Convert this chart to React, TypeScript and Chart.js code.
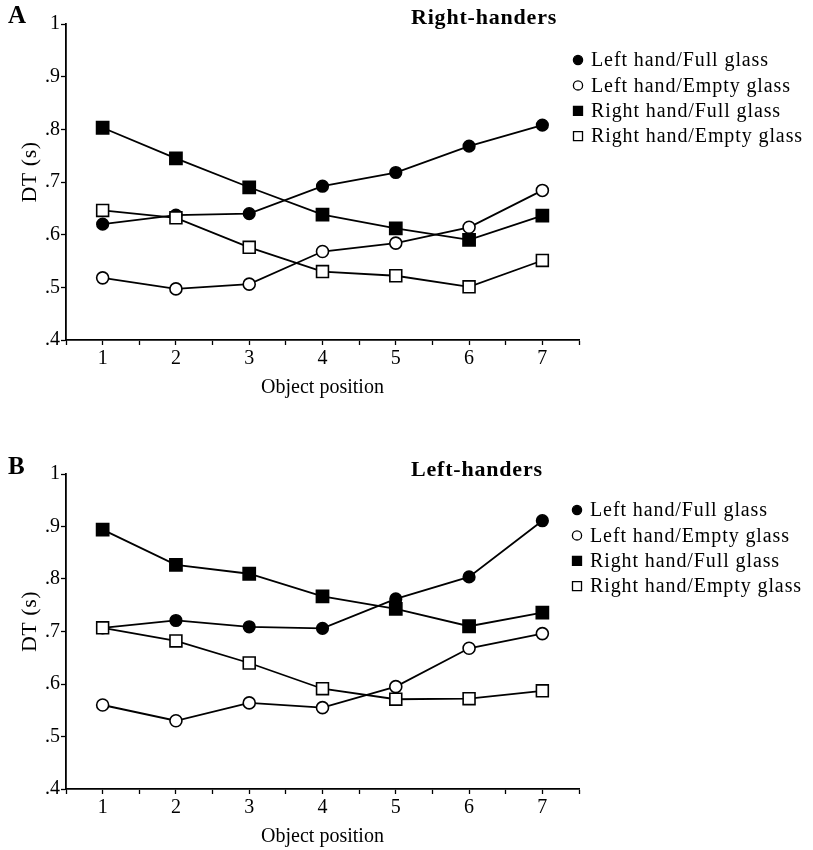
import React, { useEffect, useRef } from 'react';
import { Chart, registerables } from 'chart.js';

Chart.register(...registerables);

// ---- data ----
const positions = [1, 2, 3, 4, 5, 6, 7];
const seriesLabels = [
  'Left hand/Full glass',
  'Left hand/Empty glass',
  'Right hand/Full glass',
  'Right hand/Empty glass',
];

// Panel A: Right-handers
const rhLeftFull = [0.62, 0.637, 0.64, 0.692, 0.718, 0.768, 0.808];
const rhLeftEmpty = [0.518, 0.497, 0.506, 0.568, 0.584, 0.614, 0.684];
const rhRightFull = [0.803, 0.745, 0.69, 0.638, 0.612, 0.59, 0.636];
const rhRightEmpty = [0.646, 0.632, 0.576, 0.53, 0.522, 0.501, 0.551];

// Panel B: Left-handers
const lhLeftFull = [0.707, 0.721, 0.709, 0.706, 0.762, 0.804, 0.911];
const lhLeftEmpty = [0.56, 0.53, 0.564, 0.555, 0.595, 0.668, 0.696];
const lhRightFull = [0.894, 0.827, 0.81, 0.767, 0.743, 0.71, 0.736];
const lhRightEmpty = [0.707, 0.682, 0.64, 0.591, 0.571, 0.572, 0.587];

const yMin = 0.4;
const yMax = 1;
const yStep = 0.1;
const xMin = 0.5;
const xMax = 7.5;
const xTitle = 'Object position';
const yTitle = 'DT (s)';

const FONT = '"Liberation Serif", "Times New Roman", serif';

const pointStyles = ['circle', 'circle', 'rect', 'rect'];
const pointFills = ['#000', '#fff', '#000', '#fff'];
const pointRadii = [5.8, 6, 8.6, 8.4];

const decorPlugin = {
  id: 'decor',
  afterDraw(chart: any, _args: any, opts: any) {
    const ctx = chart.ctx;
    const area = chart.chartArea;
    ctx.save();
    ctx.fillStyle = '#000';
    ctx.textBaseline = 'middle';
    // panel letter
    ctx.font = `bold 25px ${FONT}`;
    ctx.textAlign = 'left';
    ctx.fillText(opts.letter, opts.letterX, opts.letterY);
    // title
    (ctx as any).letterSpacing = '0.8px';
    ctx.font = `bold 22px ${FONT}`;
    ctx.fillText(opts.title, opts.titleX, opts.titleY);
    // y-axis title (rotated)
    (ctx as any).letterSpacing = '0.5px';
    ctx.save();
    ctx.translate(opts.yTitleX, (area.top + area.bottom) / 2 + opts.yTitleShift);
    ctx.rotate(-Math.PI / 2);
    ctx.textAlign = 'center';
    ctx.font = `22px ${FONT}`;
    ctx.fillText(yTitle, 0, 0);
    ctx.restore();
    // legend
    (ctx as any).letterSpacing = '0.9px';
    ctx.font = `20px ${FONT}`;
    ctx.textAlign = 'left';
    chart.data.datasets.forEach((ds: any, i: number) => {
      const y = opts.legendY + i * opts.legendGap;
      const mx = opts.legendX;
      ctx.lineWidth = 1.3;
      ctx.strokeStyle = '#000';
      ctx.fillStyle = ds.pointBackgroundColor;
      ctx.beginPath();
      if (ds.pointStyle === 'circle') {
        ctx.arc(mx, y, 4.6, 0, Math.PI * 2);
      } else {
        ctx.rect(mx - 4.5, y - 4.5, 9, 9);
      }
      ctx.fill();
      ctx.stroke();
      ctx.fillStyle = '#000';
      ctx.fillText(ds.label, opts.legendTextX, y + 1);
    });
    ctx.restore();
  },
};

function makeConfig(series: number[][], p: any) {
  const font = { family: FONT, size: 20 };
  return {
    type: 'line',
    data: {
      datasets: seriesLabels.map((label, i) => ({
        label,
        order: seriesLabels.length - i,
        data: positions.map((x, j) => ({ x, y: series[i][j] })),
        borderColor: '#000',
        borderWidth: 1.8,
        pointStyle: pointStyles[i],
        pointRadius: pointRadii[i],
        pointBackgroundColor: pointFills[i],
        pointBorderColor: '#000',
        pointBorderWidth: 1.6,
        tension: 0,
        fill: false,
        clip: false,
      })),
    },
    options: {
      responsive: false,
      animation: false,
      events: [],
      layout: { padding: { left: 0, right: 234, top: p.top, bottom: 0 } },
      scales: {
        x: {
          type: 'linear',
          min: xMin,
          max: xMax,
          ticks: {
            stepSize: 0.5,
            autoSkip: false,
            maxRotation: 0,
            color: '#000',
            font,
            padding: 2,
            callback: (v: number) => (Number.isInteger(v) && v >= 1 && v <= 7 ? String(v) : ''),
          },
          grid: { drawOnChartArea: false, drawTicks: true, tickLength: 5, tickColor: '#000', tickWidth: 1.3 },
          border: { display: true, color: '#000', width: 1.8 },
          title: {
            display: true,
            text: xTitle,
            color: '#000',
            font,
            padding: { top: 0, bottom: p.xTitlePad },
          },
          afterFit: (s: any) => {
            s.height = p.xHeight;
          },
        },
        y: {
          min: yMin,
          max: yMax,
          ticks: {
            stepSize: yStep,
            color: '#000',
            font,
            padding: 1,
            callback: (v: number) => {
              const r = Math.round(v * 10);
              return r === 10 ? '1' : '.' + r;
            },
          },
          grid: { drawOnChartArea: false, drawTicks: true, tickLength: 5, tickColor: '#000', tickWidth: 1.3 },
          border: { display: true, color: '#000', width: 1.8 },
          afterFit: (s: any) => {
            s.width = 66;
          },
        },
      },
      plugins: {
        legend: { display: false },
        tooltip: { enabled: false },
        decor: p.decor,
      },
    },
    plugins: [decorPlugin],
  };
}

function Panel({ series, p }: { series: number[][]; p: any }) {
  const ref = useRef<HTMLCanvasElement>(null);
  useEffect(() => {
    const chart = new Chart(ref.current as HTMLCanvasElement, makeConfig(series, p) as any);
    return () => chart.destroy();
  }, []);
  return <canvas ref={ref} width={813} height={425} style={{ display: 'block' }} />;
}

export default function App() {
  useEffect(() => {
    document.body.style.margin = '0';
  }, []);
  const panelA = {
    top: 24,
    xHeight: 85,
    xTitlePad: 25,
    decor: {
      letter: 'A', letterX: 8, letterY: 17,
      title: 'Right-handers', titleX: 411, titleY: 18,
      yTitleX: 30, yTitleShift: -10,
      legendX: 578, legendTextX: 591, legendY: 60, legendGap: 25.4,
    },
  };
  const panelB = {
    top: 49,
    xHeight: 61,
    xTitlePad: 1,
    decor: {
      letter: 'B', letterX: 8, letterY: 43,
      title: 'Left-handers', titleX: 411, titleY: 45,
      yTitleX: 30, yTitleShift: -10,
      legendX: 577, legendTextX: 590, legendY: 85, legendGap: 25.4,
    },
  };
  return (
    <div style={{ width: 813, height: 850, background: '#fff' }}>
      <Panel series={[rhLeftFull, rhLeftEmpty, rhRightFull, rhRightEmpty]} p={panelA} />
      <Panel series={[lhLeftFull, lhLeftEmpty, lhRightFull, lhRightEmpty]} p={panelB} />
    </div>
  );
}
